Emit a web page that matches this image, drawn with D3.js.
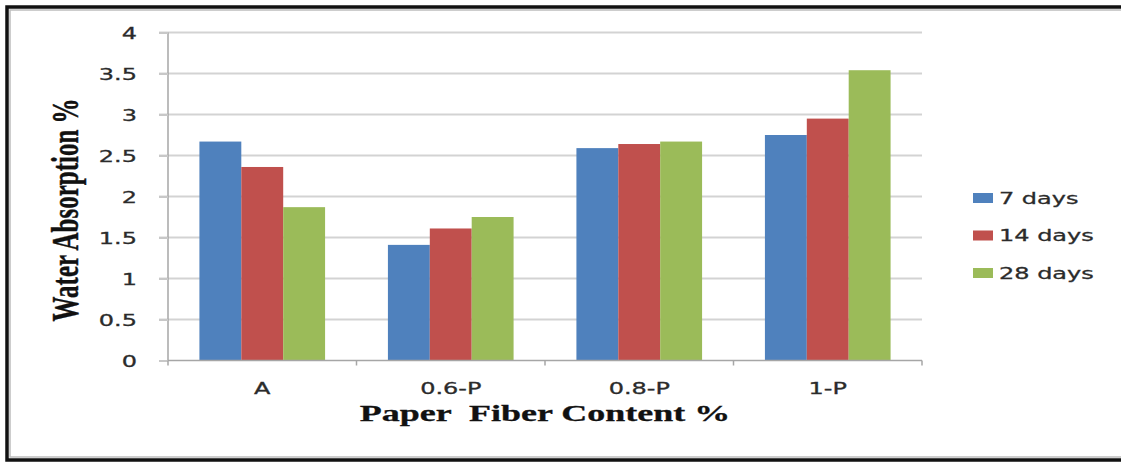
<!DOCTYPE html>
<html>
<head>
<meta charset="utf-8">
<script src="https://cdn.jsdelivr.net/npm/d3@7"></script>
<style>
  html, body { margin: 0; padding: 0; background: #fff; }
  svg { display: block; }
  text { white-space: pre; }
</style>
</head>
<body>
<svg id="chart" width="1121" height="464"></svg>
<script>
// Water absorption by paper fiber content and curing age
const categories = ["A", "0.6-P", "0.8-P", "1-P"];
const seriesNames = ["7 days", "14 days", "28 days"];
const days7  = [2.67, 1.41, 2.59, 2.75];
const days14 = [2.36, 1.61, 2.64, 2.95];
const days28 = [1.87, 1.75, 2.67, 3.54];
const yTicks = [0, 0.5, 1, 1.5, 2, 2.5, 3, 3.5, 4];
const yTickLabels = ["0", "0.5", "1", "1.5", "2", "2.5", "3", "3.5", "4"];
const colors = ["#4F81BD", "#C0504D", "#9BBB59"];

const seriesValues = [days7, days14, days28];

const svg = d3.select("#chart");
const W = 1121, H = 464;
const plot = { left: 168, right: 922, top: 32.5, bottom: 360.5 };
const stretch = 1.5;            // wide lettering used throughout the figure
const labelFont = "'DejaVu Sans', sans-serif";
const titleFont = "'Liberation Serif', 'Times New Roman', serif";
const labelInk = "#2b2b2b";

// outer frame (open on the right)
svg.append("rect")
  .attr("x", 7).attr("y", 7).attr("width", W + 10).attr("height", 453)
  .attr("fill", "none").attr("stroke", "#111").attr("stroke-width", 3.5);
svg.append("rect")
  .attr("x", 10).attr("y", 10).attr("width", W + 10).attr("height", 447)
  .attr("fill", "none").attr("stroke", "#bdbdbd").attr("stroke-width", 1.5);

// scales
const y = d3.scaleLinear().domain([0, 4]).range([plot.bottom, plot.top]);
const x0 = d3.scaleBand().domain(categories).range([plot.left, plot.right]).padding(0);
const gapWidth = 1.5;
const barW = x0.bandwidth() / (seriesNames.length + gapWidth);
const x1 = d3.scaleBand().domain(seriesNames)
  .range([barW * gapWidth / 2, x0.bandwidth() - barW * gapWidth / 2]).padding(0);

// horizontal gridlines
svg.append("g")
  .selectAll("line")
  .data(yTicks.filter(d => d > 0))
  .join("line")
  .attr("x1", plot.left - 9).attr("x2", plot.right)
  .attr("y1", d => y(d)).attr("y2", d => y(d))
  .attr("stroke", "#d3d3d3").attr("stroke-width", 2);

// bars
const groups = svg.append("g")
  .selectAll("g")
  .data(categories)
  .join("g")
  .attr("transform", d => `translate(${x0(d)},0)`);

groups.selectAll("rect")
  .data((c, i) => seriesNames.map((s, k) => ({ s, k, v: seriesValues[k][i] })))
  .join("rect")
  .attr("x", d => x1(d.s))
  .attr("width", x1.bandwidth())
  .attr("y", d => y(d.v))
  .attr("height", d => y(0) - y(d.v))
  .attr("fill", d => colors[d.k]);

// y axis
const yAxis = svg.append("g")
  .attr("transform", `translate(${plot.left},0)`)
  .call(d3.axisLeft(y).tickValues(yTicks).tickSize(9)
    .tickFormat((d, i) => yTickLabels[i]));
yAxis.select(".domain")
  .attr("d", `M0,${plot.top}V${plot.bottom}`)
  .attr("stroke", "#a6a6a6").attr("stroke-width", 1.5);
yAxis.selectAll(".tick line").attr("stroke", "#c8c8c8").attr("stroke-width", 2);
yAxis.selectAll(".tick text")
  .attr("x", 0).attr("dy", "0.36em")
  .attr("transform", `translate(-31,0) scale(${stretch},1)`)
  .attr("font-family", labelFont).attr("font-size", 16)
  .attr("fill", labelInk).attr("stroke", labelInk).attr("stroke-width", 0.3);

// x axis
const xAxis = svg.append("g")
  .attr("transform", `translate(0,${plot.bottom})`)
  .call(d3.axisBottom(x0).tickSize(0));
xAxis.select(".domain")
  .attr("d", `M${plot.left},0H${plot.right}`)
  .attr("stroke", "#a6a6a6").attr("stroke-width", 1.5);
xAxis.selectAll(".tick text")
  .attr("y", 0).attr("dy", "0.36em")
  .attr("transform", `translate(0,27.5) scale(${stretch},1)`)
  .attr("font-family", labelFont).attr("font-size", 16)
  .attr("fill", labelInk).attr("stroke", labelInk).attr("stroke-width", 0.3);
// category separators on the baseline
const bounds = categories.map(c => x0(c)).concat([plot.right]);
xAxis.append("g")
  .selectAll("line")
  .data(bounds)
  .join("line")
  .attr("x1", d => d).attr("x2", d => d)
  .attr("y1", 0).attr("y2", 5)
  .attr("stroke", "#a6a6a6").attr("stroke-width", 1.5);

// axis titles
svg.append("text")
  .attr("transform", `translate(${(plot.left + plot.right) / 2},421) scale(${stretch},1)`)
  .attr("text-anchor", "middle")
  .attr("font-family", titleFont).attr("font-weight", "bold")
  .attr("font-size", 24).attr("fill", "#111")
  .attr("stroke", "#111").attr("stroke-width", 0.3)
  .text("Paper  Fiber Content %");

svg.append("text")
  .attr("transform", `translate(78,210) scale(${stretch},1) rotate(-90)`)
  .attr("text-anchor", "middle")
  .attr("font-family", titleFont).attr("font-weight", "bold")
  .attr("font-size", 25).attr("fill", "#111")
  .attr("stroke", "#111").attr("stroke-width", 0.3)
  .text("Water Absorption %");

// legend
const legend = svg.append("g")
  .selectAll("g")
  .data(seriesNames)
  .join("g")
  .attr("transform", (d, i) => `translate(973,${198 + i * 37.5})`);
legend.append("rect")
  .attr("x", 0).attr("y", -5).attr("width", 20).attr("height", 10)
  .attr("fill", (d, i) => colors[i]);
legend.append("text")
  .attr("transform", `translate(26,0) scale(${stretch},1)`)
  .attr("dy", "0.36em")
  .attr("font-family", labelFont).attr("font-size", 16)
  .attr("fill", labelInk).attr("stroke", labelInk).attr("stroke-width", 0.3)
  .text(d => d);
</script>
</body>
</html>
